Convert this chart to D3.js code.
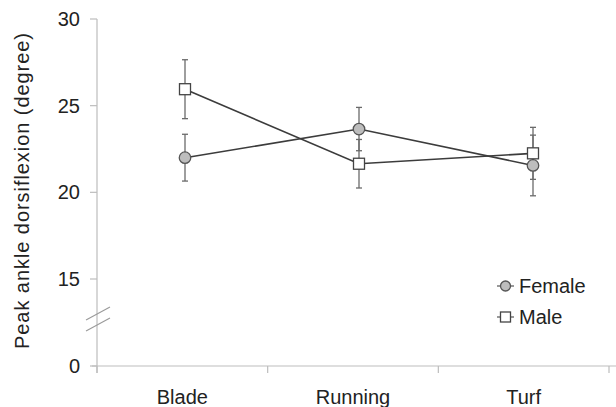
<!DOCTYPE html>
<html>
<head>
<meta charset="utf-8">
<script src="https://cdn.jsdelivr.net/npm/d3@7"></script>
<style>
  html, body { margin: 0; padding: 0; background: #fff; }
  svg { display: block; font-family: "Liberation Sans", Arial, Helvetica, sans-serif; }
</style>
</head>
<body>
<svg id="chart" width="616" height="407"></svg>
<script>
/* Peak ankle dorsiflexion by surface, female vs male (mean ± error) */
(function () {
  'use strict';

  var surfaces = ['Blade', 'Running', 'Turf'];
  var femaleMean = [22.0, 23.65, 21.55];
  var femaleErr  = [1.35, 1.25, 1.75];
  var maleMean   = [25.95, 21.65, 22.25];
  var maleErr    = [1.7, 1.4, 1.5];
  var yTicks     = [0, 15, 20, 25, 30];

  var svg = d3.select('#chart');
  var axisCol = '#bdbdbd', lineCol = '#3c3c3c', barCol = '#6a6a6a';

  /* broken y axis: 0 sits one step below 15 */
  var y = d3.scaleLinear().domain([0, 15, 30]).range([366, 279, 19]);
  var xBand = d3.scaleBand().domain(surfaces).range([97, 609]);
  var x = d3.scalePoint().domain(surfaces).range([185, 533]);

  /* y axis */
  svg.append('line')
    .attr('x1', 97).attr('x2', 97).attr('y1', y(30)).attr('y2', 373)
    .attr('stroke', axisCol).attr('stroke-width', 1.2);
  yTicks.forEach(function (t) {
    svg.append('line')
      .attr('x1', 90).attr('x2', 97).attr('y1', y(t)).attr('y2', y(t))
      .attr('stroke', axisCol).attr('stroke-width', 1.2);
    svg.append('text')
      .attr('x', 80).attr('y', y(t) + 7)
      .attr('text-anchor', 'end')
      .style('font-size', '20px').style('fill', '#222')
      .text(t);
  });

  /* break marks */
  [0, 11].forEach(function (dy) {
    svg.append('line')
      .attr('x1', 86).attr('y1', 320 + dy).attr('x2', 110).attr('y2', 307 + dy)
      .attr('stroke', '#9a9a9a').attr('stroke-width', 1.1);
  });

  /* x axis */
  svg.append('line')
    .attr('x1', 92).attr('x2', 616).attr('y1', y(0)).attr('y2', y(0))
    .attr('stroke', axisCol).attr('stroke-width', 1.2);
  var edges = surfaces.map(function (s) { return xBand(s); }).concat([xBand.range()[1]]);
  edges.forEach(function (e) {
    svg.append('line')
      .attr('x1', e).attr('x2', e).attr('y1', y(0)).attr('y2', y(0) + 7)
      .attr('stroke', axisCol).attr('stroke-width', 1.2);
  });
  surfaces.forEach(function (s) {
    svg.append('text')
      .attr('x', xBand(s) + xBand.bandwidth() / 2).attr('y', 404)
      .attr('text-anchor', 'middle')
      .style('font-size', '20px').style('fill', '#222')
      .text(s);
  });

  /* y label */
  svg.append('text')
    .attr('transform', 'translate(29,191) rotate(-90)')
    .attr('text-anchor', 'middle')
    .attr('textLength', 316).attr('lengthAdjust', 'spacing')
    .style('font-size', '20px').style('fill', '#222')
    .text('Peak ankle dorsiflexion (degree)');

  var series = [
    { name: 'Female', mean: femaleMean, err: femaleErr, shape: 'circle' },
    { name: 'Male', mean: maleMean, err: maleErr, shape: 'square' }
  ];

  var line = d3.line()
    .x(function (d, i) { return x(surfaces[i]); })
    .y(function (d) { return y(d); });

  /* error bars */
  series.forEach(function (s) {
    s.mean.forEach(function (m, i) {
      var cx = x(surfaces[i]);
      var g = svg.append('g').attr('stroke', barCol).attr('stroke-width', 1.3);
      g.append('line').attr('x1', cx).attr('x2', cx)
        .attr('y1', y(m - s.err[i])).attr('y2', y(m + s.err[i]));
      [m - s.err[i], m + s.err[i]].forEach(function (v) {
        g.append('line').attr('x1', cx - 3).attr('x2', cx + 3)
          .attr('y1', y(v)).attr('y2', y(v));
      });
    });
  });

  /* lines */
  series.forEach(function (s) {
    svg.append('path').datum(s.mean)
      .attr('d', line)
      .attr('fill', 'none').attr('stroke', lineCol).attr('stroke-width', 1.6);
  });

  function marker(g, shape, cx, cy, size) {
    if (shape === 'circle') {
      g.append('circle').attr('cx', cx).attr('cy', cy).attr('r', size / 2)
        .attr('fill', '#bdbdbd').attr('stroke', '#555').attr('stroke-width', 1.3);
    } else {
      g.append('rect').attr('x', cx - size / 2).attr('y', cy - size / 2)
        .attr('width', size).attr('height', size)
        .attr('fill', '#fff').attr('stroke', '#444').attr('stroke-width', 1.3);
    }
  }

  series.forEach(function (s) {
    s.mean.forEach(function (m, i) {
      marker(svg, s.shape, x(surfaces[i]), y(m), s.shape === 'circle' ? 11.5 : 11);
    });
  });

  /* legend */
  series.forEach(function (s, i) {
    var ly = 286 + i * 31;
    svg.append('line').attr('x1', 497).attr('x2', 514).attr('y1', ly).attr('y2', ly)
      .attr('stroke', '#555').attr('stroke-width', 1.2);
    marker(svg, s.shape, 505.5, ly, 10);
    svg.append('text').attr('x', 519).attr('y', ly + 7)
      .style('font-size', '20px').style('fill', '#222')
      .text(s.name);
  });
})();
</script>
</body>
</html>
